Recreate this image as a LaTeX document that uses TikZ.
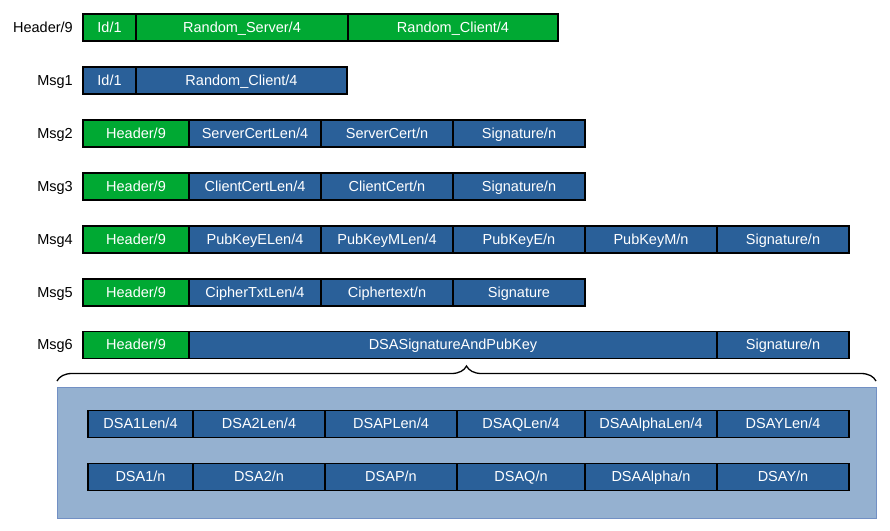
\documentclass[tikz,border=0pt]{standalone}
\usepackage{fontspec}
\setmainfont{Liberation Sans}
\usetikzlibrary{decorations.pathreplacing}
\definecolor{fgreen}{HTML}{00A933}
\definecolor{fblue}{HTML}{2A6099}
\definecolor{panelfill}{HTML}{95B1D0}
\definecolor{paneldraw}{HTML}{7290C4}
\begin{document}
\begin{tikzpicture}[x=1pt,y=-1pt,
  cell/.style={draw=black, line width=1.3pt, text=white, inner sep=0pt, outer sep=0pt,
    minimum height=27pt, anchor=west, text height=10.4pt, text depth=0.6pt,
    font=\fontsize{14.5}{17}\selectfont},
  gcell/.style={cell, fill=fgreen},
  bcell/.style={cell, fill=fblue},
  rowlabel/.style={anchor=east, inner sep=0pt, text height=10.4pt, text depth=0.6pt,
    font=\fontsize{14.5}{17}\selectfont},
  panel/.style={draw=paneldraw, fill=panelfill, line width=1pt, inner sep=0pt},
  bracestyle/.style={decorate, decoration={brace, amplitude=15pt}, line width=1.3pt}]
\useasboundingbox (0,0) rectangle (890,530);

% Header row
\node[rowlabel] (lh) at (73,27.5) {Header/9};
\node[gcell, minimum width=53pt] (h1) at (83,27.5) {Id/1};
\node[gcell, minimum width=212pt] (h2) at (h1.east) {Random\_Server/4};
\node[gcell, minimum width=210pt] (h3) at (h2.east) {Random\_Client/4};

% Msg1
\node[rowlabel] (l1) at (73,80.5) {Msg1};
\node[bcell, minimum width=53pt] (a1) at (83,80.5) {Id/1};
\node[bcell, minimum width=211pt] (a2) at (a1.east) {Random\_Client/4};

% Msg2
\node[rowlabel] (l2) at (73,133.5) {Msg2};
\node[gcell, minimum width=106pt] (b1) at (83,133.5) {Header/9};
\node[bcell, minimum width=132pt] (b2) at (b1.east) {ServerCertLen/4};
\node[bcell, minimum width=132pt] (b3) at (b2.east) {ServerCert/n};
\node[bcell, minimum width=132pt] (b4) at (b3.east) {Signature/n};

% Msg3
\node[rowlabel] (l3) at (73,186.5) {Msg3};
\node[gcell, minimum width=106pt] (c1) at (83,186.5) {Header/9};
\node[bcell, minimum width=132pt] (c2) at (c1.east) {ClientCertLen/4};
\node[bcell, minimum width=132pt] (c3) at (c2.east) {ClientCert/n};
\node[bcell, minimum width=132pt] (c4) at (c3.east) {Signature/n};

% Msg4
\node[rowlabel] (l4) at (73,239.5) {Msg4};
\node[gcell, minimum width=106pt] (d1) at (83,239.5) {Header/9};
\node[bcell, minimum width=132pt] (d2) at (d1.east) {PubKeyELen/4};
\node[bcell, minimum width=132pt] (d3) at (d2.east) {PubKeyMLen/4};
\node[bcell, minimum width=132pt] (d4) at (d3.east) {PubKeyE/n};
\node[bcell, minimum width=132pt] (d5) at (d4.east) {PubKeyM/n};
\node[bcell, minimum width=132pt] (d6) at (d5.east) {Signature/n};

% Msg5
\node[rowlabel] (l5) at (73,292.5) {Msg5};
\node[gcell, minimum width=106pt] (e1) at (83,292.5) {Header/9};
\node[bcell, minimum width=132pt] (e2) at (e1.east) {CipherTxtLen/4};
\node[bcell, minimum width=132pt] (e3) at (e2.east) {Ciphertext/n};
\node[bcell, minimum width=132pt] (e4) at (e3.east) {Signature};

% Msg6
\node[rowlabel] (l6) at (73,345) {Msg6};
\node[gcell, minimum width=106pt] (f1) at (83,345) {Header/9};
\node[bcell, minimum width=528pt] (f2) at (f1.east) {DSASignatureAndPubKey};
\node[bcell, minimum width=132pt] (f3) at (f2.east) {Signature/n};

% Brace
\coordinate (bl) at (57,381);
\coordinate (br) at (876,381);
\draw[bracestyle] (bl) -- (br);

% Panel
\node[panel, minimum width=819pt, minimum height=131pt] (panel) at (466.5,452.5) {};

% DSA row 1
\node[bcell, minimum width=105pt] (g1) at (88,424) {DSA1Len/4};
\node[bcell, minimum width=132pt] (g2) at (g1.east) {DSA2Len/4};
\node[bcell, minimum width=132pt] (g3) at (g2.east) {DSAPLen/4};
\node[bcell, minimum width=128pt] (g4) at (g3.east) {DSAQLen/4};
\node[bcell, minimum width=132pt] (g5) at (g4.east) {DSAAlphaLen/4};
\node[bcell, minimum width=132pt] (g6) at (g5.east) {DSAYLen/4};

% DSA row 2
\node[bcell, minimum width=105pt] (k1) at (88,477) {DSA1/n};
\node[bcell, minimum width=132pt] (k2) at (k1.east) {DSA2/n};
\node[bcell, minimum width=132pt] (k3) at (k2.east) {DSAP/n};
\node[bcell, minimum width=128pt] (k4) at (k3.east) {DSAQ/n};
\node[bcell, minimum width=132pt] (k5) at (k4.east) {DSAAlpha/n};
\node[bcell, minimum width=132pt] (k6) at (k5.east) {DSAY/n};
\end{tikzpicture}
\end{document}
